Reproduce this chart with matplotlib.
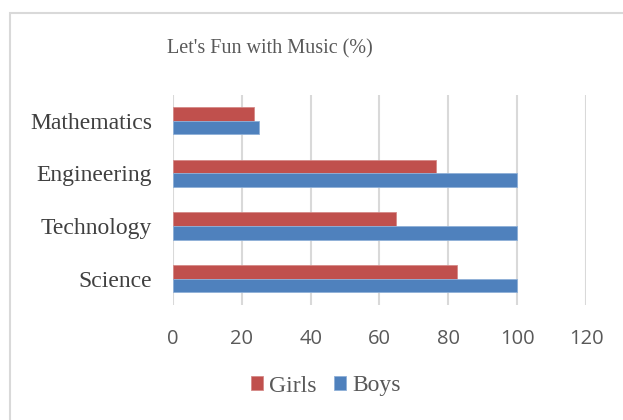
import matplotlib
matplotlib.use("Agg")
import matplotlib.pyplot as plt
import numpy as np
from matplotlib.patches import Rectangle
from matplotlib.font_manager import FontProperties

categories = ["Science", "Technology", "Engineering", "Mathematics"]
girls = [82.4, 64.7, 76.5, 23.4]
boys = [100, 100, 100, 25]
xticks = [0, 20, 40, 60, 80, 100, 120]
title = "Let's Fun with Music (%)"

W, H = 623, 420
fig = plt.figure(figsize=(W / 100, H / 100), dpi=100)

# chart area border (extends beyond the image on right/bottom)
fig.patches.append(Rectangle((10 / W, -0.1), 1.2, 1 - 13 / H + 0.1, transform=fig.transFigure,
                             fill=False, edgecolor="#D9D9D9", linewidth=1.5))

ax = fig.add_axes([173 / W, 1 - 305 / H, (586 - 173) / W, (305 - 94.5) / H])

y = np.arange(len(categories))
h = 0.26
ax.barh(y + h / 2, girls, height=h, color="#C0504D", edgecolor="#D58A88", linewidth=0.6, label="Girls", zorder=3)
ax.barh(y - h / 2, boys, height=h, color="#4F81BD", edgecolor="#8FB0D8", linewidth=0.6, label="Boys", zorder=3)

ax.set_xlim(0, 120)
ax.set_ylim(-0.5, len(categories) - 0.5)
ax.set_xticks(xticks)
ax.set_xticklabels([str(t) for t in xticks], fontfamily="Open Sans", fontsize=14.5, color="#595959")
ax.set_yticks(y)
ax.set_yticklabels(categories, fontfamily="Liberation Serif", fontsize=17, color="#404040")
ax.tick_params(axis="both", length=0)
ax.tick_params(axis="x", pad=17)
ax.tick_params(axis="y", pad=15)
ax.grid(axis="x", color="#D9D9D9", linewidth=1.5, zorder=0)
for s in ax.spines.values():
    s.set_visible(False)

fig.text(0.5 * (167 + 373) / W, 1 - 49 / H, title, ha="center", va="center",
         fontfamily="Liberation Serif", fontsize=14.5, color="#595959")

handles, labels = ax.get_legend_handles_labels()
leg = fig.legend(handles, labels, loc="center", bbox_to_anchor=(326 / W, 1 - 386 / H), ncol=2,
                 frameon=False, prop=FontProperties(family="Liberation Serif", size=17),
                 handlelength=0.5, handleheight=0.5, handletextpad=0.25, columnspacing=0.75)
for t in leg.get_texts():
    t.set_color("#595959")

fig.savefig("out.png", dpi=100)
